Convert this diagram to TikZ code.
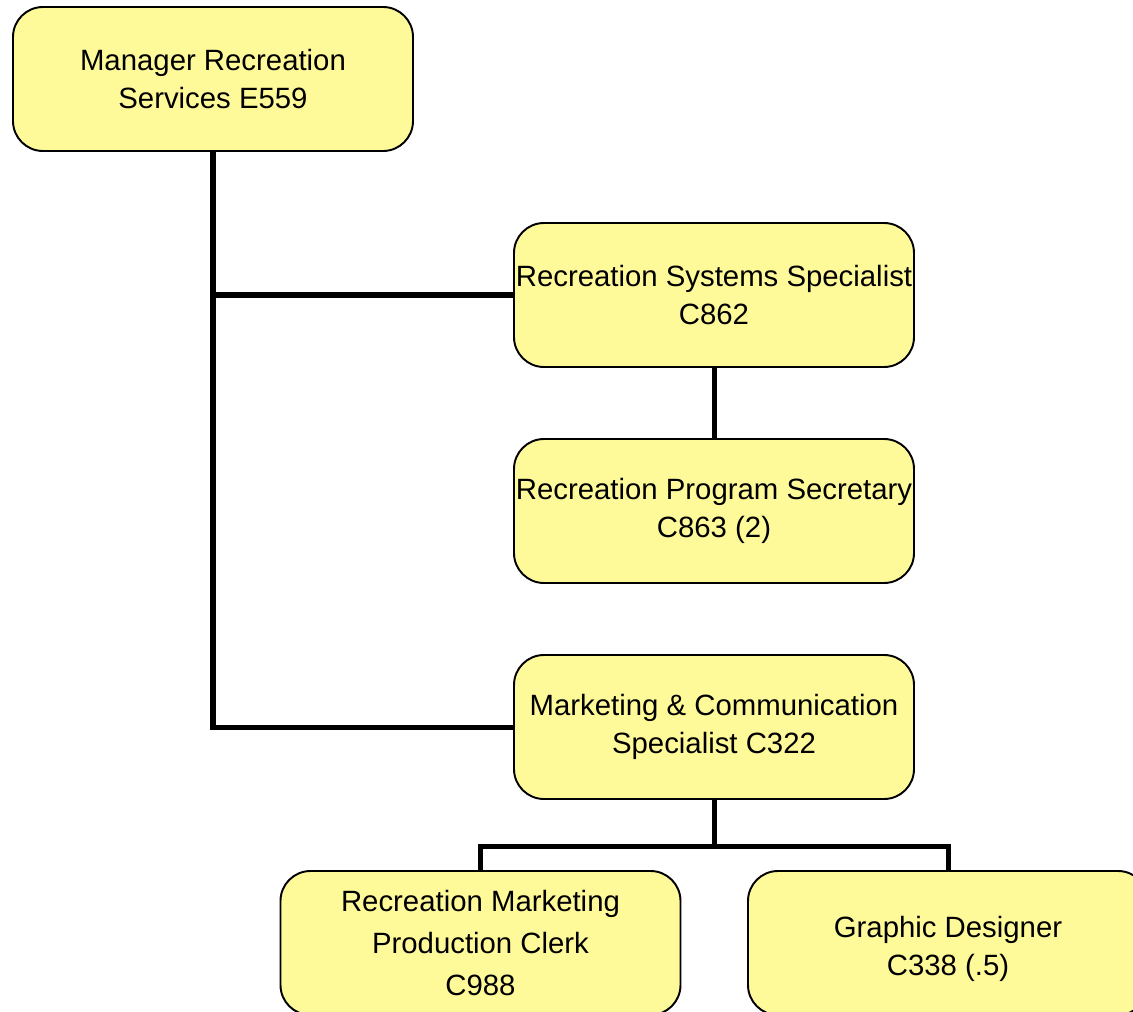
\documentclass[tikz,border=0pt]{standalone}
\usepackage{fontspec}
\setmainfont{Liberation Sans}
\usetikzlibrary{positioning,calc}

\begin{document}
\begin{tikzpicture}[
    post/.style={draw, line width=1.1pt, rounded corners=0.6cm, fill=yellow!40, minimum width=8cm, minimum height=2.88cm, align=center, inner sep=0pt, font=\fontsize{16.7}{21.6}\selectfont},
    link/.style={line width=2.85pt}
]
\clip (0,0) rectangle (22.66,-20.24);
\node[post] (mgr) at (4.26,-1.58) {Manager Recreation\\Services E559};
\node[post] (sys) at (14.28,-5.90) {Recreation Systems Specialist\\C862};
\node[post] (sec) at (14.28,-10.22) {Recreation Program Secretary\\C863 (2)};
\node[post] (mkt) at (14.28,-14.54) {Marketing \& Communication\\Specialist C322};
\node[post, font=\fontsize{16.7}{23.8}\selectfont] (clerk) at (9.61,-18.86) {Recreation Marketing\\Production Clerk\\C988};
\node[post] (gd) at (18.96,-18.86) {\rule{0pt}{0.67cm}Graphic Designer\\C338 (.5)};

\draw[link] (mgr.south) |- (mkt.west);
\draw[link] (mgr.south |- sys.west) -- (sys.west);
\draw[link] (sys) -- (sec);
\draw[link] (mkt.south) -- ++(0,-0.94) -| (clerk.north);
\draw[link] (mkt.south) -- ++(0,-0.94) -| (gd.north);
\end{tikzpicture}
\end{document}
